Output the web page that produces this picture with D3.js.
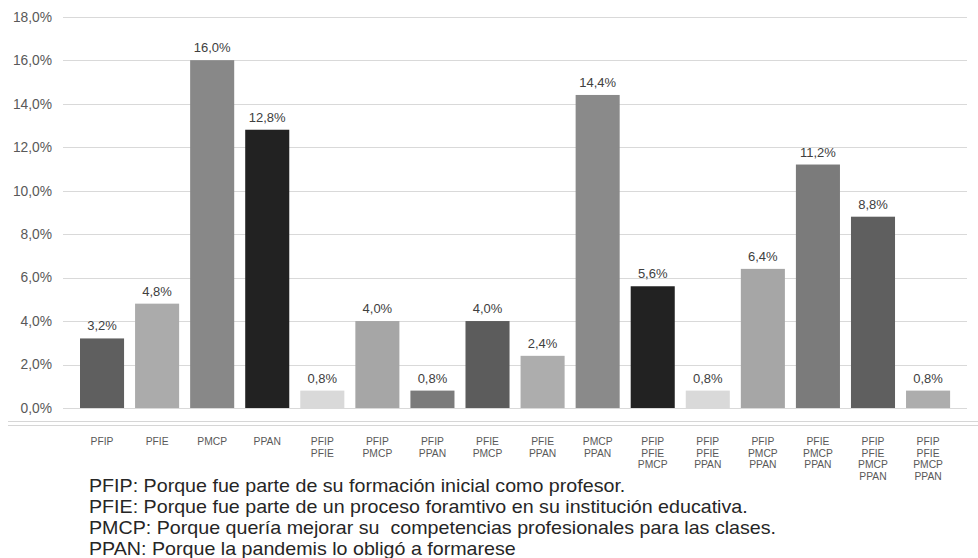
<!DOCTYPE html>
<html><head><meta charset="utf-8">
<script src="https://cdn.jsdelivr.net/npm/d3@7"></script>
<style>body{margin:0;background:#fff;}svg{display:block;font-family:"Liberation Sans",Arial,sans-serif;}</style>
</head><body>
<svg id="chart" width="978" height="558"></svg>
<script>
const categories = [
  ["PFIP"],["PFIE"],["PMCP"],["PPAN"],
  ["PFIP","PFIE"],["PFIP","PMCP"],["PFIP","PPAN"],["PFIE","PMCP"],["PFIE","PPAN"],["PMCP","PPAN"],
  ["PFIP","PFIE","PMCP"],["PFIP","PFIE","PPAN"],["PFIP","PMCP","PPAN"],["PFIE","PMCP","PPAN"],
  ["PFIP","PFIE","PMCP","PPAN"],["PFIP","PFIE","PMCP","PPAN"]
];
const values = [3.2,4.8,16.0,12.8,0.8,4.0,0.8,4.0,2.4,14.4,5.6,0.8,6.4,11.2,8.8,0.8];
const barColors = ["#5f5f5f","#ababab","#888888","#222222","#d9d9d9","#a6a6a6","#7b7b7b","#5c5c5c","#adadad","#8a8a8a","#222222","#d9d9d9","#a6a6a6","#7b7b7b","#5f5f5f","#adadad"];
const yTicks = [0,2,4,6,8,10,12,14,16,18];
const legendLines = [
  "PFIP: Porque fue parte de su formación inicial como profesor.",
  "PFIE: Porque fue parte de un proceso foramtivo en su institución educativa.",
  "PMCP: Porque quería mejorar su  competencias profesionales para las clases.",
  "PPAN: Porque la pandemis lo obligó a formarese"
];

const svg = d3.select("#chart");
const fmt = v => v.toFixed(1).replace(".", ",") + "%";
const ids = d3.range(categories.length);

const x = d3.scaleBand().domain(ids).range([74.5, 955.6]).paddingInner(0.2).paddingOuter(0.1);
const y = d3.scaleLinear().domain([0, 18]).range([408, 16.7]);

// gridlines
svg.append("g").selectAll("line").data(yTicks).join("line")
  .attr("x1", 63).attr("x2", 967)
  .attr("y1", d => Math.round(y(d)) + 0.5).attr("y2", d => Math.round(y(d)) + 0.5)
  .attr("stroke", "#d9d9d9").attr("stroke-width", 1);

// y axis labels
const yAxis = d3.axisLeft(y).tickValues(yTicks).tickFormat(fmt).tickSize(0).tickPadding(0);
const ya = svg.append("g").attr("transform", "translate(52,0)").call(yAxis);
ya.select(".domain").remove();
ya.selectAll("text").attr("font-size", 13.8).attr("fill", "#595959").attr("font-family", "Liberation Sans, Arial, sans-serif");

// bars
svg.append("g").selectAll("rect").data(ids).join("rect")
  .attr("x", i => x(i)).attr("width", x.bandwidth())
  .attr("y", i => y(values[i])).attr("height", i => y(0) - y(values[i]))
  .attr("fill", i => barColors[i]);

// data labels
svg.append("g").selectAll("text").data(ids).join("text")
  .attr("x", i => x(i) + x.bandwidth() / 2).attr("y", i => y(values[i]) - 8)
  .attr("text-anchor", "middle").attr("font-size", 13).attr("fill", "#404040")
  .text(i => fmt(values[i]));

// separator lines below chart
[421.5, 425.5].forEach(yy => svg.append("line").attr("x1", 8).attr("x2", 978)
  .attr("y1", yy).attr("y2", yy).attr("stroke", "#d6d6d6").attr("stroke-width", 1));

// x category labels
const xl = svg.append("g").selectAll("text").data(ids).join("text")
  .attr("x", i => x(i) + x.bandwidth() / 2).attr("y", 445)
  .attr("text-anchor", "middle").attr("font-size", 10.3).attr("fill", "#595959");
xl.selectAll("tspan").data(i => categories[i]).join("tspan")
  .attr("x", function(){ return d3.select(this.parentNode).attr("x"); })
  .attr("dy", (d, j) => j === 0 ? 0 : 11.7)
  .text(d => d);

// legend text
svg.append("g").attr("transform", "translate(89,0) scale(1.08,1)")
  .selectAll("text").data(legendLines).join("text")
  .attr("x", 0).attr("y", (d, i) => 492.5 + i * 20.7)
  .attr("font-size", 18.2).attr("fill", "#262626")
  .attr("xml:space", "preserve").style("white-space", "pre")
  .text(d => d);
</script>
</body></html>
